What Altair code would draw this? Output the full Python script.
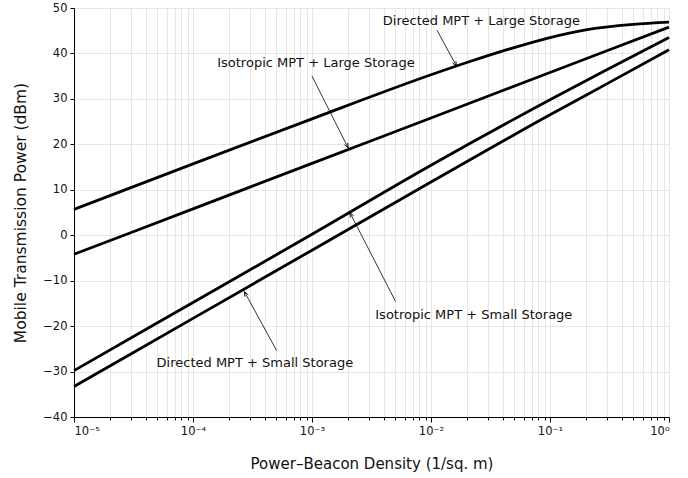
import math
import altair as alt
import pandas as pd

# ---- data ----
density_dl = [1e-5, 1e-4, 1e-3, 1e-2, 2e-2, 5e-2, 1e-1, 2e-1, 5e-1, 1.0]
directed_large = [5.7, 15.7, 25.6, 35.3, 38.0, 41.3, 43.5, 45.2, 46.4, 46.9]

density_il = [1e-5, 1e-4, 1e-3, 1e-2, 1e-1, 1.0]
isotropic_large = [-4.2, 5.8, 15.8, 25.8, 35.8, 45.8]

density_small = [1e-5, 1e-4, 1e-3, 1e-2, 1e-1, 3e-1, 1.0]
isotropic_small = [-29.8, -14.8, 0.2, 15.4, 29.8, 36.4, 43.5]
directed_small = [-33.3, -18.3, -3.3, 11.7, 26.5, 33.3, 40.8]

series_names = ["Directed MPT + Large Storage", "Isotropic MPT + Large Storage",
                "Isotropic MPT + Small Storage", "Directed MPT + Small Storage"]

# annotation anchors (data coordinates)
label_x = [0.0265, 0.00108, 0.0229, 0.000331]
label_y = [47.2, 38.0, -17.6, -28.2]
arrow_from_x = [0.01125, 0.001, 0.00504, 0.000505]
arrow_from_y = [45.1, 35.0, -14.6, -25.4]
arrow_to_x = [0.01637, 0.002015, 0.00208, 0.00027]
arrow_to_y = [37.2, 19.2, 5.0, -12.4]

x_tick_values = [float(f"{m}e{k}") for k in range(-5, 0) for m in range(1, 10)] + [1.0]
y_tick_values = list(range(-40, 51, 10))

W, H = 595, 409
FONT = "DejaVu Sans"

rows = []
for name, xs, ys in [(series_names[0], density_dl, directed_large),
                     (series_names[1], density_il, isotropic_large),
                     (series_names[2], density_small, isotropic_small),
                     (series_names[3], density_small, directed_small)]:
    for xv, yv in zip(xs, ys):
        rows.append({"x": xv, "y": yv, "series": name})
lines_df = pd.DataFrame(rows)


def to_px(xv, yv):
    return W * (math.log10(xv) + 5) / 5, H * (50 - yv) / 90


angles = []
for fx, fy, tx, ty in zip(arrow_from_x, arrow_from_y, arrow_to_x, arrow_to_y):
    sx, sy = to_px(fx, fy)
    ex, ey = to_px(tx, ty)
    a = math.degrees(math.atan2(ex - sx, -(ey - sy))) % 360
    angles.append(a)

ann_df = pd.DataFrame({
    "label": series_names,
    "lx": label_x, "ly": label_y,
    "fx": arrow_from_x, "fy": arrow_from_y,
    "tx": arrow_to_x, "ty": arrow_to_y,
    "ang": angles,
})

e_expr = "round(log(datum.value)/LN10)"
sup = {-5: "10⁻⁵", -4: "10⁻⁴", -3: "10⁻³", -2: "10⁻²", -1: "10⁻¹", 0: "10⁰"}
lab = "''"
for e in [0, -1, -2, -3, -4, -5]:
    lab = f"({e_expr} == {e} ? '{sup[e]}' : {lab})"
is_dec = f"abs(datum.value / pow(10, {e_expr}) - 1) < 1e-6"
label_expr = f"{is_dec} ? {lab} : ''"

x_scale = alt.Scale(type="log", domain=[1e-5, 1.0], nice=False)
y_scale = alt.Scale(domain=[-40, 50], nice=False, zero=False)

x_axis = alt.Axis(values=x_tick_values, labelExpr=label_expr, labelOverlap=False,
                  title="Power–Beacon Density (1/sq. m)", titlePadding=20,
                  tickSize={"condition": {"test": is_dec, "value": 5}, "value": 3},
                  labelPadding=3, titleFontSize=15)
y_axis = alt.Axis(values=y_tick_values, title="Mobile Transmission Power (dBm)",
                  titlePadding=14, tickSize=4, labelPadding=3, titleFontSize=15.5)

lines = alt.Chart(lines_df).mark_line(color="black", strokeWidth=2.8, interpolate="monotone").encode(
    x=alt.X("x:Q", scale=x_scale, axis=x_axis),
    y=alt.Y("y:Q", scale=y_scale, axis=y_axis),
    detail="series:N",
)

base = alt.Chart(ann_df)
arrows = base.mark_rule(color="black", strokeWidth=0.8).encode(
    x=alt.X("fx:Q", scale=x_scale, axis=x_axis),
    y=alt.Y("fy:Q", scale=y_scale, axis=y_axis),
    x2="tx:Q", y2="ty:Q",
)
heads = base.mark_point(shape="M-0.4,1 L0,0 L0.4,1", filled=False, color="black",
                        strokeWidth=0.8, size=90, opacity=1).encode(
    x=alt.X("tx:Q", scale=x_scale, axis=x_axis),
    y=alt.Y("ty:Q", scale=y_scale, axis=y_axis),
    angle=alt.Angle("ang:Q", scale=None),
)
texts = base.mark_text(font=FONT, fontSize=13, color="#111111", align="center",
                       baseline="middle").encode(
    x=alt.X("lx:Q", scale=x_scale, axis=x_axis),
    y=alt.Y("ly:Q", scale=y_scale, axis=y_axis),
    text="label:N",
)

chart = alt.layer(lines, arrows, heads, texts).properties(
    width=W, height=H,
    autosize=alt.AutoSizeParams(type="none"),
    padding={"left": 74, "top": 8, "right": 19, "bottom": 61},
).configure_view(strokeWidth=0).configure_axis(
    gridColor="#e6e6e6", gridWidth=1, domainColor="black", domainWidth=1,
    tickColor="black", labelFont=FONT, titleFont=FONT, labelFontSize=11.5,
    titleFontWeight="normal", labelColor="#111111", titleColor="#111111",
)

chart.save("out.html", embed_options={"renderer": "svg", "actions": False})
